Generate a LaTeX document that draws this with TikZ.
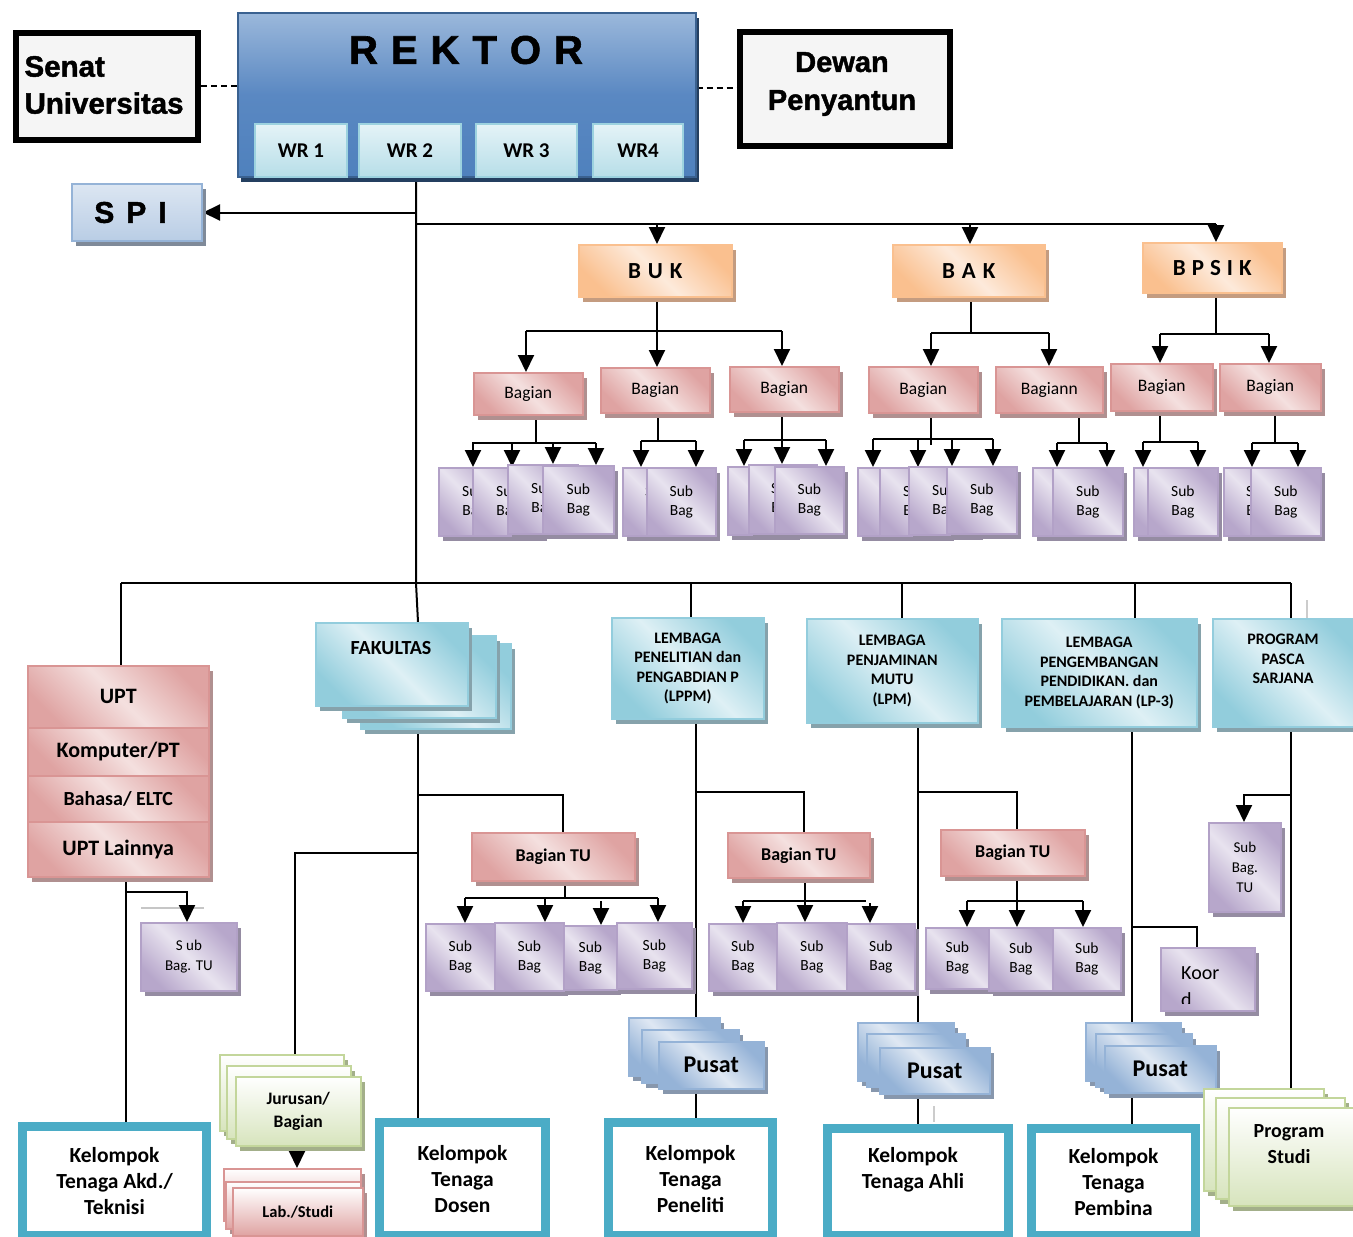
\documentclass[tikz,border=0pt]{standalone}
\usepackage{fontspec}
\setmainfont{Carlito}
\newfontfamily\heavy{Liberation Sans}[BoldFeatures={FakeBold=1.5}]
\usetikzlibrary{arrows.meta,shadows}
\pgfdeclarelayer{bg}
\pgfsetlayers{bg,main}
\definecolor{pinkL}{HTML}{F4E0DF}
\definecolor{pinkD}{HTML}{DFA3A2}
\definecolor{pinkB}{HTML}{D99594}
\definecolor{pinkS}{HTML}{B09090}
\definecolor{purL}{HTML}{E8E3EF}
\definecolor{purD}{HTML}{B7A7CB}
\definecolor{purB}{HTML}{B2A1C7}
\definecolor{purS}{HTML}{958CA2}
\definecolor{cyL}{HTML}{DEF0F5}
\definecolor{cyD}{HTML}{92CDDC}
\definecolor{cyB}{HTML}{93CDDD}
\definecolor{cyS}{HTML}{86A2AB}
\definecolor{orL}{HTML}{FDEADB}
\definecolor{orD}{HTML}{FAC08F}
\definecolor{orB}{HTML}{FAC08F}
\definecolor{orS}{HTML}{C49C80}
\definecolor{puL}{HTML}{DFE8F3}
\definecolor{puD}{HTML}{95B3D7}
\definecolor{puB}{HTML}{95B3D7}
\definecolor{puS}{HTML}{8797AD}
\definecolor{grD}{HTML}{D7E4BD}
\definecolor{grB}{HTML}{C3D69B}
\definecolor{grS}{HTML}{A3AF8A}
\definecolor{teal1}{HTML}{4BACC6}
\definecolor{rkL}{HTML}{9BB8DB}
\definecolor{rkM}{HTML}{5A88C2}
\definecolor{rkD}{HTML}{4F81BD}
\definecolor{rkB}{HTML}{3A6190}
\definecolor{rkS}{HTML}{243F60}
\definecolor{wrL}{HTML}{E4F3F7}
\definecolor{wrD}{HTML}{B7DEE8}
\definecolor{wrB}{HTML}{9CD2DF}
\definecolor{spL}{HTML}{DCE6F2}
\definecolor{spD}{HTML}{B9CDE5}
\definecolor{spB}{HTML}{95B3D7}
\definecolor{spS}{HTML}{7F8A99}
\newcommand\fsz[2]{\fontsize{#1}{#2}\selectfont}
% name, style, x1, y1, x2, y2, text
\newcommand\mkbox[7]{%
  \pgfmathsetmacro\bw{#5-#3}\pgfmathsetmacro\bh{#6-#4}%
  \node[#2, minimum width=\bw pt, minimum height=\bh pt] (#1) at (#3,#4) {#7};}
\newcommand\kelin[1]{\draw[teal1, line width=2.5pt] ([xshift=8pt,yshift=-8pt]#1.north west) rectangle ([xshift=-8pt,yshift=8pt]#1.south east);}
\begin{document}
\begin{tikzpicture}[x=1pt,y=-1pt,
  bx0/.style={inner sep=0pt, anchor=north west, align=center, line width=1.5pt},
  shd/.style={drop shadow={shadow xshift=4pt, shadow yshift=-5pt, fill=#1, opacity=1}},
  gr/.style n args={3}{top color=#1, bottom color=#1, middle color=#2, shading angle=-45, draw=#3},
  pinkbox/.style={bx0, gr={pinkD}{pinkL}{pinkB}, shd=pinkS},
  purbox/.style={bx0, gr={purD}{purL}{purB}, shd=purS, line width=1.8pt, font=\fsz{15.5}{19}},
  cyanbox/.style={bx0, gr={cyD}{cyL}{cyB}, shd=cyS},
  orbox/.style={bx0, gr={orD}{orL}{orB}, shd=orS, font=\bfseries\fsz{23}{26}},
  pubox/.style={bx0, gr={puD}{puL}{puB}, shd=puS, font=\bfseries\fsz{24}{26}},
  grbox/.style={bx0, top color=white, bottom color=grD, draw=grB, shd=grS},
  labbox/.style={bx0, top color=white, bottom color=pinkD, draw=pinkB, shd=pinkS},
  kel/.style={bx0, draw=teal1, line width=8pt, fill=white, font=\bfseries\fsz{21.5}{26}},
  wrbox/.style={bx0, top color=wrL, bottom color=wrD, draw=wrB, line width=2pt, font=\bfseries\fsz{21}{24}},
  bag/.style={pinkbox, font=\fsz{17.5}{21}},
  tubox/.style={pinkbox, font=\bfseries\fsz{18}{21}},
  lem/.style={cyanbox, font=\bfseries\fsz{16}{19.5}},
  ln/.style={line width=2pt, draw=black},
  arr/.style={ln, -{Triangle[width=16pt,length=17pt]}},
  dsh/.style={line width=1.5pt, dash pattern=on 6pt off 4pt},
 ]
\useasboundingbox (0,0) rectangle (1353,1237);

% ---------- top ----------
\mkbox{senat}{bx0, draw=black, line width=6pt, fill=gray!8}{13}{30}{195}{137}{}
\node[anchor=west, align=left, font=\heavy\bfseries\fsz{29.5}{37}] (senattxt) at (21,85) {Senat\\Universitas};
\mkbox{rektor}{bx0, top color=rkL, bottom color=rkD, middle color=rkM, draw=rkB, drop shadow={shadow xshift=3pt, shadow yshift=-5pt, fill=rkS, opacity=1}}{237}{12}{695}{176}{}
\node[font=\heavy\bfseries\fsz{40}{44}] (rektortxt) at (466,50) {R\hspace{13pt}E\hspace{13pt}K\hspace{13pt}T\hspace{13pt}O\hspace{13pt}R};
\mkbox{wr1}{wrbox}{254}{123}{346}{176}{WR 1}
\mkbox{wr2}{wrbox}{358}{123}{460}{176}{WR 2}
\mkbox{wr3}{wrbox}{475}{123}{576}{176}{WR 3}
\mkbox{wr4}{wrbox}{592}{123}{682}{176}{WR4}
\mkbox{dewan}{bx0, draw=black, line width=6pt, fill=gray!8}{737}{29}{947}{143}{}
\node[align=center, font=\heavy\bfseries\fsz{29}{38}] (dewantxt) at (842,84) {Dewan\\Penyantun};
\mkbox{spi}{bx0, top color=spL, bottom color=spD, draw=spB, line width=2pt, shd=spS, font=\heavy\bfseries\fsz{30}{34}}{71}{183}{201}{240}{S\hspace{12pt}P\hspace{12pt}I\hspace{13pt}}

% ---------- BUK / BAK / BPSIK ----------
\mkbox{buk}{orbox}{578}{244}{731}{296}{B\hspace{7pt}U\hspace{7pt}K}
\mkbox{bak}{orbox}{892}{244}{1044}{296}{B\hspace{7pt}A\hspace{7pt}K}
\mkbox{bpsik}{orbox}{1142}{242}{1281}{292}{B\hspace{6pt}P\hspace{6pt}S\hspace{6pt}I\hspace{6pt}K}

\mkbox{b1}{bag}{473}{372}{582}{414}{Bagian}
\mkbox{b2}{bag}{600}{367}{709}{412}{Bagian}
\mkbox{b3}{bag}{729}{366}{838}{411}{Bagian}
\mkbox{b4}{bag}{868}{366}{977}{412}{Bagian}
\mkbox{b5}{bag}{995}{366}{1102}{412}{Bagiann}
\mkbox{b6}{bag}{1110}{363}{1212}{410}{Bagian}
\mkbox{b7}{bag}{1219}{363}{1320}{410}{Bagian}

\mkbox{s11}{purbox}{438}{467}{508}{535}{Sub\\Bag}
\mkbox{s12}{purbox}{472}{467}{542}{535}{Sub\\Bag}
\mkbox{s13}{purbox}{507}{464}{577}{533}{Sub\\Bag}
\mkbox{s14}{purbox}{542}{465}{613}{533}{Sub\\Bag}
\mkbox{s21}{purbox}{622}{467}{690}{535}{Sub\\Bag}
\mkbox{s22}{purbox}{646}{467}{715}{535}{Sub\\Bag}
\mkbox{s31}{purbox}{727}{466}{795}{534}{Sub\\Bag}
\mkbox{s32}{purbox}{748}{464}{816}{533}{Sub\\Bag}
\mkbox{s33}{purbox}{774}{466}{843}{533}{Sub\\Bag}
\mkbox{s41}{purbox}{857}{467}{925}{535}{Sub\\Bag}
\mkbox{s42}{purbox}{879}{467}{949}{535}{Sub\\Bag}
\mkbox{s43}{purbox}{908}{466}{978}{534}{Sub\\Bag}
\mkbox{s44}{purbox}{946}{466}{1016}{533}{Sub\\Bag}
\mkbox{s51}{purbox}{1032}{467}{1100}{535}{Sub\\Bag}
\mkbox{s52}{purbox}{1052}{467}{1122}{535}{Sub\\Bag}
\mkbox{s61}{purbox}{1133}{467}{1201}{535}{}
\mkbox{s62}{purbox}{1147}{467}{1217}{535}{Sub\\Bag}
\mkbox{s71}{purbox}{1223}{467}{1291}{535}{Sub\\Bag}
\mkbox{s72}{purbox}{1250}{467}{1320}{535}{Sub\\Bag}

% ---------- second tier ----------
\mkbox{upt1}{pinkbox, font=\bfseries\fsz{22}{26}}{27}{665}{208}{727}{UPT}
\mkbox{upt2}{pinkbox, font=\bfseries\fsz{22}{26}}{27}{727}{208}{775}{Komputer/PT}
\mkbox{upt3}{pinkbox, font=\bfseries\fsz{20}{24}}{27}{775}{208}{821}{Bahasa/ ELTC}
\mkbox{upt4}{pinkbox, font=\bfseries\fsz{22}{26}}{27}{821}{208}{876}{UPT Lainnya}
\mkbox{stu1}{purbox, font=\fsz{15}{20}}{140}{922}{236}{990}{S ub\\Bag. TU}

\mkbox{fak3}{cyanbox}{360}{643}{510}{728}{}
\mkbox{fak2}{cyanbox}{342}{635}{495}{717}{}
\mkbox{fak1}{cyanbox}{315}{622}{467}{705}{}
\node[font=\bfseries\fsz{20}{24}] (faktxt) at (391,648) {FAKULTAS};

\mkbox{lppm}{lem}{611}{617}{763}{718}{LEMBAGA\\PENELITIAN dan\\PENGABDIAN P\\(LPPM)}
\mkbox{lpm}{lem}{806}{618}{977}{722}{LEMBAGA\\PENJAMINAN\\MUTU\\(LPM)}
\mkbox{lp3}{lem}{1001}{618}{1196}{726}{LEMBAGA\\PENGEMBANGAN\\PENDIDIKAN. dan\\PEMBELAJARAN (LP-3)}
\mkbox{pasca}{lem}{1212}{618}{1360}{726}{}
\node[font=\bfseries\fsz{16}{19.5}, align=center] (pascatxt) at (1283,659) {PROGRAM\\PASCA\\SARJANA};

\mkbox{tu1}{tubox}{471}{832}{634}{880}{Bagian TU}
\mkbox{tu2}{tubox}{727}{832}{869}{877}{Bagian TU}
\mkbox{tu3}{tubox}{940}{829}{1084}{875}{Bagian TU}

\mkbox{t11}{purbox}{425}{923}{494}{990}{Sub\\Bag}
\mkbox{t12}{purbox}{494}{922}{563}{990}{Sub\\Bag}
\mkbox{t13}{purbox}{563}{925}{616}{989}{Sub\\Bag}
\mkbox{t14}{purbox}{616}{922}{691}{988}{Sub\\Bag}
\mkbox{t21}{purbox}{708}{923}{776}{990}{Sub\\Bag}
\mkbox{t22}{purbox}{776}{922}{846}{990}{Sub\\Bag}
\mkbox{t23}{purbox}{846}{923}{914}{990}{Sub\\Bag}
\mkbox{t31}{purbox}{925}{927}{988}{988}{Sub\\Bag}
\mkbox{t32}{purbox}{988}{927}{1052}{990}{Sub\\Bag}
\mkbox{t33}{purbox}{1052}{927}{1120}{990}{Sub\\Bag}

\mkbox{sbtu2}{purbox, font=\fsz{15}{20}}{1208}{822}{1280}{911}{Sub\\Bag.\\TU}
\mkbox{koord}{purbox}{1160}{947}{1254}{1010}{}
\begin{scope}
  \clip (1160,947) rectangle (1254,1003);
  \node[anchor=north west, align=left, inner sep=0pt, font=\fsz{20}{27}] (koordtxt) at (1181,966) {Koor\\d};
\end{scope}

% Pusat stacks
\mkbox{p11}{pubox}{628}{1017}{719}{1075}{}
\mkbox{p12}{pubox}{641}{1029}{738}{1082}{}
\mkbox{p13}{pubox}{658}{1041}{763}{1088}{Pusat}
\mkbox{p21}{pubox}{857}{1022}{953}{1080}{}
\mkbox{p22}{pubox}{866}{1033}{964}{1086}{}
\mkbox{p23}{pubox}{879}{1047}{989}{1093}{Pusat}
\mkbox{p31}{pubox}{1085}{1022}{1180}{1080}{}
\mkbox{p32}{pubox}{1095}{1033}{1191}{1086}{}
\mkbox{p33}{pubox}{1104}{1045}{1215}{1092}{Pusat}

% Jurusan / Lab
\mkbox{jur1}{grbox}{219}{1054}{343}{1130}{}
\mkbox{jur2}{grbox}{226}{1065}{350}{1138}{}
\mkbox{jur3}{grbox, font=\bfseries\fsz{17.5}{23}}{235}{1076}{360}{1145}{Jurusan/\\Bagian}
\mkbox{lab1}{labbox}{223}{1168}{360}{1220}{}
\mkbox{lab2}{labbox}{225}{1181}{360}{1228}{}
\mkbox{lab3}{labbox, font=\bfseries\fsz{16.5}{20}}{232}{1187}{362}{1235}{Lab./Studi}

% Program studi
\mkbox{ps1}{grbox}{1203}{1088}{1323}{1190}{}
\mkbox{ps2}{grbox}{1215}{1097}{1344}{1198}{}
\mkbox{ps3}{grbox}{1228}{1107}{1362}{1205}{}
\node[font=\bfseries\fsz{20}{26}, align=center] (pstxt) at (1289,1144) {Program\\Studi};

% Kelompok
\mkbox{kakd}{kel}{18}{1122}{203}{1232}{Kelompok\\Tenaga Akd./\\Teknisi}
\kelin{kakd}
\mkbox{kdos}{kel}{375}{1118}{542}{1232}{Kelompok\\Tenaga\\Dosen}
\kelin{kdos}
\mkbox{kpen}{kel}{604}{1118}{769}{1232}{Kelompok\\Tenaga\\Peneliti}
\kelin{kpen}
\mkbox{kahli}{kel}{823}{1124}{1005}{1232}{}
\kelin{kahli}
\node[font=\bfseries\fsz{21.5}{26}, align=center] (kahlitxt) at (913,1170) {Kelompok\\Tenaga Ahli};
\mkbox{kpem}{kel}{1027}{1124}{1192}{1232}{Kelompok\\Tenaga\\Pembina}
\kelin{kpem}

% ---------- connectors ----------
\begin{pgfonlayer}{bg}
\draw[dsh] (senat.east |- 0,86) -- (rektor.west |- 0,86);
\draw[dsh] (rektor.east |- 0,88) -- (dewan.west |- 0,88);
\draw[ln] (416,0 |- rektor.south) -- (416,583) -- (418,0 |- fak1.north);
\draw[arr] (416,0 |- spi.east) -- (spi.east);
\draw[ln] (416,224) -- (1216,224);
\draw[arr] (657,224) -- (657,0 |- buk.north);
\draw[arr] (970,224) -- (970,0 |- bak.north);
\draw[arr] (1216,224) -- (1216,0 |- bpsik.north);
% BUK
\draw[ln] (657,0 |- buk.south) -- (657,331);
\draw[ln] (526,331) -- (782,331);
\draw[arr] (526,331) -- (526,0 |- b1.north);
\draw[arr] (657,331) -- (657,0 |- b2.north);
\draw[arr] (782,331) -- (782,0 |- b3.north);
% BAK
\draw[ln] (971,0 |- bak.south) -- (971,333);
\draw[ln] (931,333) -- (1049,333);
\draw[arr] (931,333) -- (931,0 |- b4.north);
\draw[arr] (1049,333) -- (1049,0 |- b5.north);
% BPSIK
\draw[ln] (1216,0 |- bpsik.south) -- (1216,334);
\draw[ln] (1160,334) -- (1269,334);
\draw[arr] (1160,334) -- (1160,0 |- b6.north);
\draw[arr] (1269,334) -- (1269,0 |- b7.north);
% groups
\draw[ln] (536,0 |- b1.south) -- (536,443);
\draw[ln] (472,443) -- (596,443);
\draw[arr] (473,443) -- (473,0 |- s11.north);
\draw[arr] (512,443) -- (512,0 |- s12.north);
\draw[arr] (553,443) -- (553,0 |- s13.north);
\draw[arr] (596,443) -- (596,0 |- s14.north);
\draw[ln] (658,0 |- b2.south) -- (658,441);
\draw[ln] (641,441) -- (696,441);
\draw[arr] (641,441) -- (641,0 |- s21.north);
\draw[arr] (696,441) -- (696,0 |- s22.north);
\draw[ln] (782,0 |- b3.south) -- (782,440);
\draw[ln] (744,440) -- (826,440);
\draw[arr] (744,440) -- (744,0 |- s31.north);
\draw[arr] (782,440) -- (782,0 |- s32.north);
\draw[arr] (826,440) -- (826,0 |- s33.north);
\draw[ln] (931,0 |- b4.south) -- (931,445);
\draw[ln] (873,439) -- (993,439);
\draw[arr] (873,439) -- (873,0 |- s41.north);
\draw[arr] (918,439) -- (918,0 |- s42.north);
\draw[arr] (952,439) -- (952,0 |- s43.north);
\draw[arr] (993,439) -- (993,0 |- s44.north);
\draw[ln] (1079,0 |- b5.south) -- (1079,443);
\draw[ln] (1057,443) -- (1107,443);
\draw[arr] (1057,443) -- (1057,0 |- s51.north);
\draw[arr] (1107,443) -- (1107,0 |- s52.north);
\draw[ln] (1160,0 |- b6.south) -- (1160,442);
\draw[ln] (1143,442) -- (1198,442);
\draw[arr] (1143,442) -- (1143,0 |- s61.north);
\draw[arr] (1198,442) -- (1198,0 |- s62.north);
\draw[ln] (1275,0 |- b7.south) -- (1275,443);
\draw[ln] (1252,443) -- (1298,443);
\draw[arr] (1252,443) -- (1252,0 |- s71.north);
\draw[arr] (1298,443) -- (1298,0 |- s72.north);
% second tier
\draw[ln] (121,583) -- (1291,583);
\draw[ln] (121,583) -- (121,0 |- upt1.north);
\draw[ln] (691,583) -- (691,0 |- lppm.north);
\draw[ln] (902,583) -- (902,0 |- lpm.north);
\draw[ln] (1135,583) -- (1135,0 |- lp3.north);
\draw[ln] (1291,583) -- (1291,0 |- pasca.north);
\draw[gray!40, line width=2pt] (1307,600) -- (1307,633);
% UPT
\draw[ln] (126,0 |- upt4.south) -- (126,0 |- kakd.north);
\draw[gray!45, line width=2.5pt] (141,908) -- (204,908);
\draw[arr] (126,892) -- (187,892) -- (187,0 |- stu1.north);
% Fakultas
\draw[ln] (418,0 |- fak1.south) -- (418,0 |- kdos.north);
\draw[ln] (418,795) -- (563,795) -- (563,0 |- tu1.north);
\draw[ln] (418,853) -- (295,853) -- (295,0 |- jur1.north);
\draw[ln] (565,0 |- tu1.south) -- (565,898);
\draw[ln] (465,898) -- (658,898);
\draw[arr] (465,898) -- (465,0 |- t11.north);
\draw[arr] (545,898) -- (545,0 |- t12.north);
\draw[arr] (601,901) -- (601,0 |- t13.north);
\draw[arr] (658,898) -- (658,0 |- t14.north);
\draw[arr] (297,0 |- jur3.south) -- (297,0 |- lab1.north);
% LPPM
\draw[ln] (696,0 |- lppm.south) -- (696,0 |- kpen.north);
\draw[ln] (696,792) -- (804,792) -- (804,0 |- tu2.north);
\draw[ln] (805,0 |- tu2.south) -- (805,901);
\draw[ln] (743,901) -- (866,901);
\draw[arr] (743,901) -- (743,0 |- t21.north);
\draw[arr] (805,901) -- (805,0 |- t22.north);
\draw[arr] (870,903) -- (870,0 |- t23.north);
% LPM
\draw[ln] (918,0 |- lpm.south) -- (918,0 |- kahli.north);
\draw[ln] (918,792) -- (1017,792) -- (1017,0 |- tu3.north);
\draw[ln] (1017,0 |- tu3.south) -- (1017,901);
\draw[ln] (967,901) -- (1083,901);
\draw[arr] (967,901) -- (967,0 |- t31.north);
\draw[arr] (1017,901) -- (1017,0 |- t32.north);
\draw[arr] (1083,901) -- (1083,0 |- t33.north);
\draw[gray!40, line width=1.5pt] (934,1106) -- (934,1122);
% LP3
\draw[ln] (1132,0 |- lp3.south) -- (1132,0 |- kpem.north);
\draw[ln] (1132,927) -- (1197,927) -- (1197,0 |- koord.north);
% Pasca
\draw[ln] (1291,0 |- pasca.south) -- (1291,0 |- ps1.north);
\draw[arr] (1291,795) -- (1244,795) -- (1244,0 |- sbtu2.north);
\end{pgfonlayer}
\end{tikzpicture}
\end{document}
